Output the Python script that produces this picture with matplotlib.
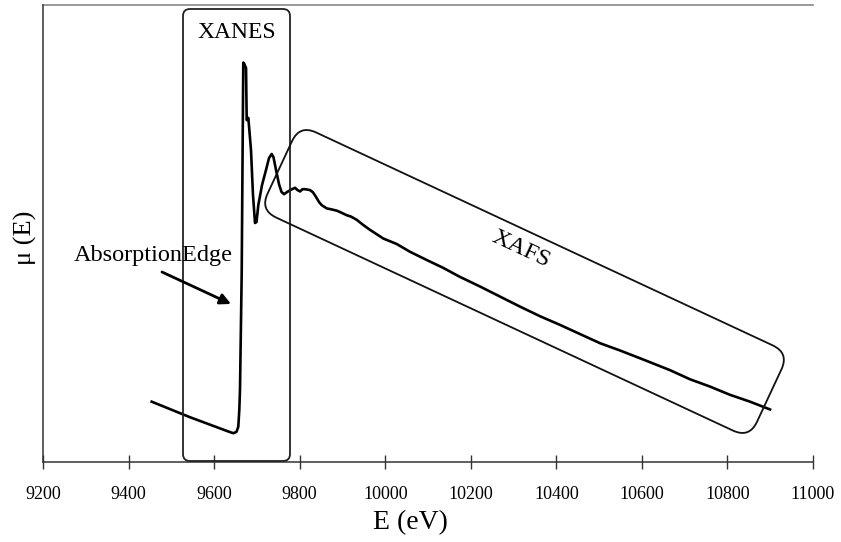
import matplotlib
matplotlib.use("Agg")
import matplotlib.pyplot as plt
from matplotlib.patches import FancyBboxPatch
from matplotlib.transforms import Affine2D

plt.rcParams['font.family'] = ['Liberation Serif', 'DejaVu Serif']

# ---- data ----
energy = [9454.1, 9543.6, 9632.5, 9644.9, 9652.3, 9656.5, 9658.9, 9660.5, 9664.5, 9666.8,
          9668.2, 9670.6, 9674.6, 9676.2, 9680.0, 9686.2, 9690.9, 9695.6, 9699.1, 9703.3,
          9712.0, 9721.3, 9728.3, 9734.6, 9738.8, 9744.7, 9751.7, 9757.5, 9763.4, 9772.7,
          9782.1, 9789.1, 9795.0, 9800.8, 9806.7, 9812.5, 9824.2, 9831.2, 9838.2, 9845.2,
          9851.5, 9863.2, 9873.3, 9886.6, 9896.6, 9910.0, 9920.0, 9933.3, 9948.1, 9964.4,
          9995.5, 10026.9, 10057.9, 10097.0, 10135.1, 10174.8, 10221.6, 10268.3, 10315.1, 10361.8,
          10408.6, 10455.3, 10502.1, 10548.9, 10595.6, 10665.7, 10712.5, 10759.3, 10806.0, 10852.8,
          10899.5]
mu = [0.132, 0.098, 0.067, 0.063, 0.066, 0.077, 0.114, 0.158, 0.414, 0.705,
      0.874, 0.871, 0.862, 0.748, 0.753, 0.683, 0.584, 0.523, 0.525, 0.562,
      0.606, 0.639, 0.665, 0.674, 0.667, 0.639, 0.608, 0.591, 0.586, 0.592,
      0.597, 0.600, 0.595, 0.592, 0.597, 0.597, 0.595, 0.590, 0.580, 0.569,
      0.562, 0.555, 0.553, 0.550, 0.546, 0.540, 0.537, 0.530, 0.519, 0.508,
      0.489, 0.477, 0.460, 0.442, 0.425, 0.405, 0.384, 0.362, 0.340, 0.319,
      0.300, 0.280, 0.260, 0.244, 0.227, 0.201, 0.181, 0.165, 0.147, 0.132,
      0.115]
xticks = [9200, 9400, 9600, 9800, 10000, 10200, 10400, 10600, 10800, 11000]
xlabel = "E (eV)"
ylabel = "\u03bc (E)"

W, H = 841, 542
fig = plt.figure(figsize=(W / 100, H / 100), dpi=100)
ax = fig.add_axes([43 / W, 80 / H, 770 / W, 457 / H])

ax.plot(energy, mu, color='black', lw=1.9, solid_joinstyle='round')
ax.set_xlim(9200, 11000)
ax.set_ylim(0, 1.0)
ax.set_xticks(xticks)
ax.set_xticklabels([str(t) for t in xticks], fontsize=13)
ax.set_yticks([])
ax.tick_params(axis='x', direction='inout', length=10, width=1.0, pad=12, color='#333333')
for s in ['top', 'right']:
    ax.spines[s].set_visible(False)
for s in ['left', 'bottom']:
    ax.spines[s].set_color('#333333')
    ax.spines[s].set_linewidth(1.1)
ax.axhline(1.0, color='#888888', lw=1.2, clip_on=False)

ax.set_xlabel(xlabel, fontsize=20)
ax.xaxis.set_label_coords((410 - 43) / 770, (462 - 523) / 457)
ax.xaxis.label.set_verticalalignment('center')
ax.set_ylabel(ylabel, fontsize=19)
ax.yaxis.set_label_coords((25 - 43) / 770, (462 - 238) / 457)
ax.yaxis.label.set_verticalalignment('center')

# ---- overlay in pixel coordinates for annotation boxes ----
ov = fig.add_axes([0, 0, 1, 1], facecolor='none')
ov.set_xlim(0, W)
ov.set_ylim(H, 0)
ov.axis('off')

# XANES box
xanes = FancyBboxPatch((183, 9), 107, 452, boxstyle="round,pad=0,rounding_size=7",
                       fill=False, ec='#222222', lw=1.3)
ov.add_patch(xanes)
ov.text(236.5, 32, "XANES", ha='center', va='center', fontsize=17)

# XAFS rotated box
cx, cy, bw, bh, ang = 524.5, 281.5, 540, 94, 25
xafs = FancyBboxPatch((cx - bw / 2, cy - bh / 2), bw, bh,
                      boxstyle="round,pad=0,rounding_size=18",
                      fill=False, ec='#111111', lw=1.3)
xafs.set_transform(Affine2D().rotate_deg_around(cx, cy, ang) + ov.transData)
ov.add_patch(xafs)
ov.text(521, 249, "XAFS", ha='center', va='center', fontsize=17.5, rotation=-25,
        rotation_mode='anchor')

# Absorption edge label and arrow
ov.text(153, 255, "AbsorptionEdge", ha='center', va='center', fontsize=17.5)
ov.annotate("", xy=(231, 304), xytext=(162, 272),
            arrowprops=dict(arrowstyle='-|>', color='black', lw=2.0,
                            shrinkA=0, shrinkB=0, mutation_scale=16))

fig.savefig("out.png", dpi=100)
